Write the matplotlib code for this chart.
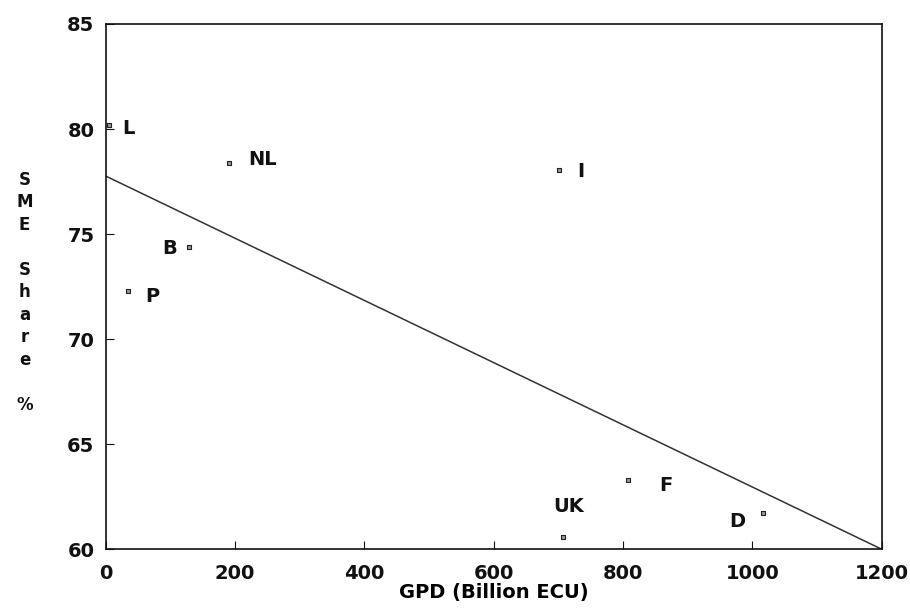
#!/usr/bin/env python3
"""SME share vs GDP scatter with fitted regression line."""

import matplotlib
matplotlib.use("Agg")
import matplotlib.pyplot as plt
import numpy as np

plt.rcParams["font.family"] = ["DejaVu Sans"]

COUNTRIES = ["L", "NL", "B", "P", "I", "F", "D", "UK"]
GDP = [5, 191, 129, 34, 701, 808, 1016, 707]
SME_SHARE = [80.2, 78.4, 74.4, 72.3, 78.05, 63.3, 61.7, 60.6]

X_TICKS = [0, 200, 400, 600, 800, 1000, 1200]
Y_TICKS = [60, 65, 70, 75, 80, 85]

# label offsets in points (dx, dy) relative to each marker
OFFSETS = {
    "L": (14, -3), "NL": (24, 2), "B": (-14, -1), "P": (18, -4),
    "I": (16, -1), "F": (27, -4), "UK": (4, 22), "D": (-18, -6),
}


def main() -> None:
  fig = plt.figure(figsize=(9.1, 6.15), dpi=100)
  fig.patch.set_facecolor("white")
  ax = fig.add_axes([0.116, 0.107, 0.853, 0.854])

  slope, intercept = np.polyfit(GDP, SME_SHARE, 1)
  xs = np.array([0, 1200])
  ax.plot(xs, intercept + slope * xs, color="#333333", linewidth=1.1, zorder=2)

  ax.scatter(GDP, SME_SHARE, marker="s", s=12, facecolor="#999999",
             edgecolor="#222222", linewidth=0.8, zorder=3)
  for name, x, y in zip(COUNTRIES, GDP, SME_SHARE):
    dx, dy = OFFSETS[name]
    ax.annotate(name, (x, y), xytext=(dx, dy), textcoords="offset points",
                ha="center", va="center", fontsize=14, fontweight="bold",
                color="#111111")

  ax.set_xlim(0, 1200)
  ax.set_ylim(60, 85)
  ax.set_xticks(X_TICKS)
  ax.set_yticks(Y_TICKS)
  ax.tick_params(direction="in", length=6, width=0.8, labelsize=14,
                 colors="#111111")
  ax.tick_params(axis="x", pad=11)
  ax.tick_params(axis="y", pad=8)
  for label in ax.get_xticklabels() + ax.get_yticklabels():
    label.set_fontweight("bold")
  for spine in ax.spines.values():
    spine.set_linewidth(1.2)
    spine.set_color("#111111")

  ax.set_xlabel("GPD (Billion ECU)", fontsize=14, fontweight="bold",
                labelpad=0)
  fig.text(0.027, 0.525, "S\nM\nE\n\nS\nh\na\nr\ne\n\n%", ha="center",
           va="center", fontsize=12, fontweight="bold", linespacing=1.32,
           color="#111111")

  fig.savefig("out.png", dpi=100)
  plt.close(fig)


if __name__ == "__main__":
  main()
